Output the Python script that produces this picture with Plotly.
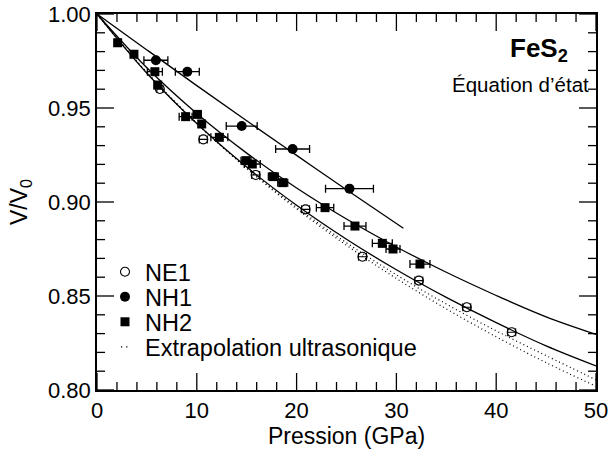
import plotly.graph_objects as go

# ---------------- data ----------------
ne1_p = [6.3, 10.65, 15.9, 20.9, 26.6, 32.25, 37.05, 41.55]
ne1_v = [0.9601, 0.9333, 0.9144, 0.8961, 0.8709, 0.8582, 0.8440, 0.8307]
ne1_err = [0.3, 0.4, 0.4, 0.4, 0.4, 0.4, 0.4, 0.4]

nh1_p = [5.9, 9.05, 14.5, 19.6, 25.3]
nh1_v = [0.9754, 0.9693, 0.9404, 0.9282, 0.9071]
nh1_err = [1.2, 1.2, 1.55, 1.7, 2.4]

nh2_p = [2.07, 3.7, 5.8, 6.08, 8.88, 10.05, 10.49, 12.26, 14.93, 15.56,
         17.67, 18.61, 22.85, 25.85, 28.59, 29.66, 32.36]
nh2_v = [0.9847, 0.9786, 0.9693, 0.9622, 0.9454, 0.9466, 0.9415, 0.9344, 0.9220, 0.9202,
         0.9135, 0.9103, 0.8970, 0.8872, 0.8780, 0.8750, 0.8670]
nh2_err = [0.3, 0.3, 0.75, 0.3, 0.65, 0.4, 0.3, 0.85, 0.5, 0.8,
           0.5, 0.5, 0.87, 1.1, 1.0, 0.7, 1.0]

# fitted equation-of-state curves
fit_nh1_p = [0, 5, 10, 15, 20, 25, 30.7]
fit_nh1_v = [1.0, 0.9809, 0.9619, 0.9432, 0.9248, 0.9065, 0.8860]

curve_p = [0, 5, 10, 15, 20, 25, 30, 35, 40, 45, 50]
fit_nh2_v = [1.0, 0.97138, 0.94706, 0.92600, 0.90746, 0.89095, 0.87609, 0.86261, 0.85028, 0.83894, 0.82960]
fit_ne1_v = [1.0, 0.96846, 0.94171, 0.91857, 0.89826, 0.88019, 0.86395, 0.84924, 0.83580, 0.82347, 0.81280]
ultra_a_v = [1.0, 0.96876, 0.94179, 0.91814, 0.89714, 0.87830, 0.86126, 0.84572, 0.83146, 0.81830, 0.80540]
ultra_b_v = [1.0, 0.96896, 0.94184, 0.91783, 0.89635, 0.87696, 0.85932, 0.84318, 0.82831, 0.81455, 0.80200]

x_ticks = [0, 10, 20, 30, 40, 50]
y_ticks = [0.80, 0.85, 0.90, 0.95, 1.00]
x_minor_step = 2
y_minor_step = 0.01

FONT = "Liberation Sans, Arial, Helvetica, sans-serif"
BLACK = "black"

# plot area: x 97..596, y 14..390
W, H = 610, 450
L, R, T, B = 97, 14, 14, 60
pw, ph = W - L - R, H - T - B

fig = go.Figure()

# curves
for px_, vy_ in [(fit_nh1_p, fit_nh1_v), (curve_p, fit_nh2_v), (curve_p, fit_ne1_v)]:
    fig.add_trace(go.Scatter(x=px_, y=vy_, mode="lines", line=dict(color=BLACK, width=1.3, shape="spline"),
                             showlegend=False, hoverinfo="skip"))
for vy_ in [ultra_a_v, ultra_b_v]:
    fig.add_trace(go.Scatter(x=curve_p, y=vy_, mode="lines",
                             line=dict(color=BLACK, width=1.2, dash="1px,3px", shape="spline"),
                             showlegend=False, hoverinfo="skip"))

# inward tick marks on all four sides (major 17 px, minor 8 px), built from the tick arrays
x_span = x_ticks[-1] - x_ticks[0]
y_span = y_ticks[-1] - y_ticks[0]
tx, ty = [], []
n_x = int(round(x_span / x_minor_step))
for i in range(n_x + 1):
    v = x_ticks[0] + i * x_minor_step
    d = (17 if v in x_ticks else 8) * y_span / ph
    tx += [v, v, None, v, v, None]
    ty += [y_ticks[0], y_ticks[0] + d, None, y_ticks[-1], y_ticks[-1] - d, None]
n_y = int(round(y_span / y_minor_step))
for i in range(n_y + 1):
    v = round(y_ticks[0] + i * y_minor_step, 4)
    d = (17 if any(abs(v - t) < 1e-9 for t in y_ticks) else 8) * x_span / pw
    tx += [x_ticks[0], x_ticks[0] + d, None, x_ticks[-1], x_ticks[-1] - d, None]
    ty += [v, v, None, v, v, None]
fig.add_trace(go.Scatter(x=tx, y=ty, mode="lines", line=dict(color=BLACK, width=1.3),
                         showlegend=False, hoverinfo="skip", cliponaxis=False))

# data points
fig.add_trace(go.Scatter(
    x=ne1_p, y=ne1_v, mode="markers", name="NE1", legend="legend",
    marker=dict(symbol="circle-open", size=9, color=BLACK, line=dict(width=1.1)),
    error_x=dict(type="data", array=ne1_err, color=BLACK, thickness=1.1, width=4)))
fig.add_trace(go.Scatter(
    x=nh1_p, y=nh1_v, mode="markers", name="NH1", legend="legend2",
    marker=dict(symbol="circle", size=10, color=BLACK),
    error_x=dict(type="data", array=nh1_err, color=BLACK, thickness=1.3, width=4)))
fig.add_trace(go.Scatter(
    x=nh2_p, y=nh2_v, mode="markers", name="NH2", legend="legend3",
    marker=dict(symbol="square", size=9, color=BLACK),
    error_x=dict(type="data", array=nh2_err, color=BLACK, thickness=1.3, width=4)))
# legend entry for the dotted extrapolation curves
fig.add_trace(go.Scatter(
    x=[None], y=[None], mode="lines", name="Extrapolation ultrasonique", legend="legend4",
    line=dict(color=BLACK, width=1.2, dash="0px,11px,1.2px,4px,1.2px,100px")))


def py(p):
    return (H - B - p) / ph


def px(p):
    return (p - L) / pw


legend_common = dict(x=px(105), xanchor="left", yanchor="middle", bgcolor="rgba(0,0,0,0)",
                     font=dict(family=FONT, size=23.5, color=BLACK), itemwidth=30,
                     borderwidth=0)
fig.update_layout(
    template="none",
    legend=dict(y=py(272), **legend_common),
    legend2=dict(y=py(297), **legend_common),
    legend3=dict(y=py(322), **legend_common),
    legend4=dict(y=py(347), **legend_common),
)

fig.update_layout(
    xaxis=dict(
        range=[x_ticks[0], x_ticks[-1]], tickmode="linear", tick0=x_ticks[0],
        dtick=x_ticks[1] - x_ticks[0],
        showline=True, linecolor=BLACK, linewidth=1.5, mirror=True,
        ticks="", showgrid=False, zeroline=False, automargin=False,
        tickfont=dict(family=FONT, size=22, color=BLACK),
        title=dict(text="Pression (GPa)", font=dict(family=FONT, size=23, color=BLACK), standoff=0),
    ),
    yaxis=dict(
        range=[y_ticks[0], y_ticks[-1]], tickmode="linear", tick0=y_ticks[0],
        dtick=round(y_ticks[1] - y_ticks[0], 4), tickformat=".2f",
        showline=True, linecolor=BLACK, linewidth=1.5, mirror=True,
        ticks="", showgrid=False, zeroline=False, automargin=False,
        tickfont=dict(family=FONT, size=22, color=BLACK),
        title=dict(text="V/V<sub>0</sub>", font=dict(family=FONT, size=23, color=BLACK), standoff=14),
    ),
)

fig.add_annotation(text="<b>FeS<sub>2</sub></b>", xref="paper", yref="paper",
                   x=px(570), y=py(50), xanchor="right", yanchor="middle", showarrow=False,
                   font=dict(family=FONT, size=26, color=BLACK))
fig.add_annotation(text="Équation d’état", xref="paper", yref="paper",
                   x=px(591), y=py(84), xanchor="right", yanchor="middle", showarrow=False,
                   font=dict(family=FONT, size=20.5, color=BLACK))

fig.update_layout(
    width=W, height=H,
    margin=dict(l=L, r=R, t=T, b=B, autoexpand=False),
    paper_bgcolor="white", plot_bgcolor="white",
    font=dict(family=FONT, size=22, color=BLACK),
)

fig.write_html("out.html")
